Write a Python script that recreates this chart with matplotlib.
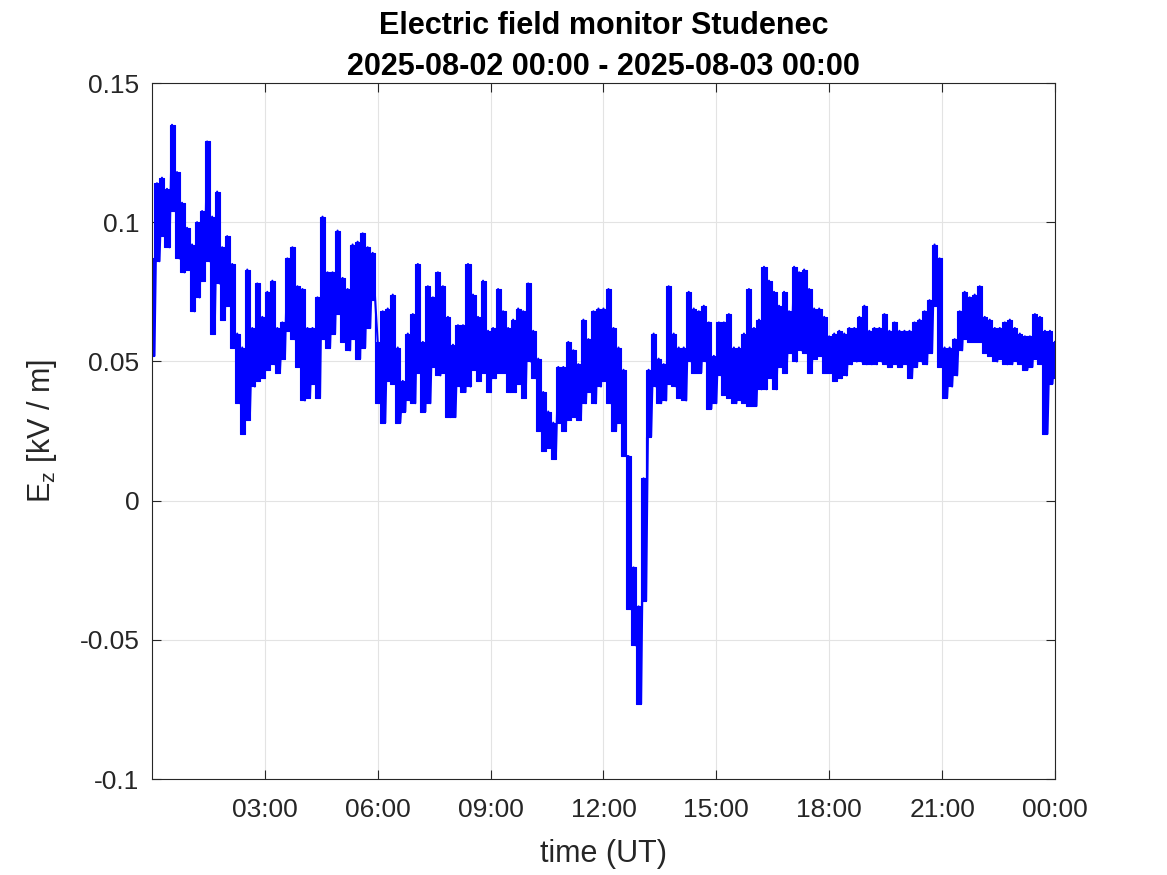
import numpy as np
import matplotlib
matplotlib.use("Agg")
import matplotlib.pyplot as plt

plt.rcParams['font.family'] = ['Liberation Sans', 'DejaVu Sans']

# Ez [kV/m], upper and lower edges of the noisy trace, one pair per ~8 min slot
ez_hi = [0.087, 0.114, 0.116, 0.112, 0.135, 0.118, 0.107, 0.098, 0.092, 0.100,
         0.104, 0.129, 0.102, 0.111, 0.091, 0.095, 0.085, 0.060, 0.055, 0.083,
         0.062, 0.078, 0.066, 0.075, 0.079, 0.062, 0.064, 0.087, 0.091, 0.077,
         0.076, 0.062, 0.062, 0.073, 0.102, 0.082, 0.082, 0.097, 0.080, 0.076,
         0.092, 0.093, 0.096, 0.091, 0.089, 0.057, 0.068, 0.069, 0.074, 0.055,
         0.043, 0.060, 0.067, 0.085, 0.057, 0.077, 0.073, 0.082, 0.077, 0.066,
         0.056, 0.063, 0.063, 0.085, 0.074, 0.066, 0.079, 0.061, 0.062, 0.076,
         0.068, 0.062, 0.065, 0.069, 0.068, 0.078, 0.061, 0.051, 0.039, 0.032,
         0.028, 0.048, 0.048, 0.057, 0.054, 0.049, 0.065, 0.058, 0.068, 0.069,
         0.069, 0.076, 0.062, 0.055, 0.047, 0.016, -0.024, -0.038, 0.008, 0.047,
         0.060, 0.051, 0.049, 0.077, 0.060, 0.055, 0.055, 0.075, 0.069, 0.068,
         0.070, 0.064, 0.052, 0.064, 0.064, 0.067, 0.055, 0.055, 0.060, 0.076,
         0.062, 0.065, 0.084, 0.079, 0.075, 0.070, 0.075, 0.068, 0.084, 0.082,
         0.083, 0.076, 0.069, 0.069, 0.066, 0.059, 0.060, 0.061, 0.060, 0.062,
         0.062, 0.066, 0.070, 0.061, 0.062, 0.062, 0.067, 0.061, 0.064, 0.061,
         0.061, 0.061, 0.064, 0.065, 0.068, 0.072, 0.092, 0.087, 0.055, 0.055,
         0.058, 0.068, 0.075, 0.073, 0.074, 0.077, 0.066, 0.065, 0.062, 0.062,
         0.064, 0.065, 0.062, 0.060, 0.059, 0.059, 0.067, 0.066, 0.061, 0.061,
         0.057]
ez_lo = [0.052, 0.086, 0.095, 0.091, 0.104, 0.087, 0.082, 0.083, 0.068, 0.073,
         0.079, 0.086, 0.060, 0.078, 0.065, 0.070, 0.055, 0.035, 0.024, 0.029,
         0.041, 0.043, 0.044, 0.047, 0.049, 0.046, 0.051, 0.061, 0.058, 0.048,
         0.036, 0.037, 0.042, 0.037, 0.058, 0.055, 0.060, 0.067, 0.057, 0.054,
         0.058, 0.051, 0.055, 0.062, 0.072, 0.035, 0.028, 0.043, 0.042, 0.028,
         0.032, 0.036, 0.035, 0.046, 0.032, 0.035, 0.048, 0.045, 0.046, 0.030,
         0.030, 0.041, 0.039, 0.041, 0.047, 0.043, 0.046, 0.039, 0.044, 0.046,
         0.046, 0.039, 0.039, 0.042, 0.037, 0.050, 0.044, 0.025, 0.018, 0.019,
         0.015, 0.028, 0.025, 0.029, 0.030, 0.029, 0.035, 0.039, 0.035, 0.041,
         0.043, 0.035, 0.025, 0.028, 0.016, -0.039, -0.052, -0.073, -0.036, 0.023,
         0.041, 0.035, 0.036, 0.042, 0.041, 0.037, 0.036, 0.050, 0.046, 0.046,
         0.050, 0.033, 0.035, 0.045, 0.038, 0.037, 0.035, 0.036, 0.035, 0.034,
         0.034, 0.040, 0.040, 0.044, 0.040, 0.048, 0.046, 0.053, 0.050, 0.054,
         0.053, 0.046, 0.051, 0.052, 0.046, 0.046, 0.043, 0.044, 0.045, 0.049,
         0.050, 0.050, 0.049, 0.049, 0.049, 0.050, 0.049, 0.048, 0.049, 0.048,
         0.049, 0.044, 0.048, 0.050, 0.049, 0.053, 0.070, 0.048, 0.037, 0.041,
         0.045, 0.054, 0.058, 0.057, 0.057, 0.057, 0.053, 0.052, 0.050, 0.051,
         0.049, 0.049, 0.050, 0.049, 0.047, 0.048, 0.051, 0.049, 0.024, 0.042,
         0.044]

hour_ticks = [3, 6, 9, 12, 15, 18, 21, 24]
hour_labels = ['03:00', '06:00', '09:00', '12:00', '15:00', '18:00', '21:00', '00:00']
ez_ticks = [-0.1, -0.05, 0, 0.05, 0.1, 0.15]
ez_labels = ['-0.1', '-0.05', '0', '0.05', '0.1', '0.15']

t = np.linspace(0, 24, len(ez_hi))
dt = t[1] - t[0]
x = np.column_stack([t, t + dt / 2]).ravel()
y = np.column_stack([ez_hi, ez_lo]).ravel()
keep = x <= 24
x, y = x[keep], y[keep]

fig = plt.figure(figsize=(11.67, 8.75), dpi=100)
ax = fig.add_axes([0.1302, 0.1097, 0.7738, 0.7954])

blue = '#0000ff'
# noisy trace drawn as a band between its upper and lower edge, plus the trace itself
ax.fill_between(t, ez_lo, ez_hi, step='mid', facecolor=blue, edgecolor=blue, linewidth=0.8)
ax.plot(x, y, color=blue, linewidth=1.5)

ax.set_xlim(0, 24)
ax.set_ylim(-0.1, 0.15)
ax.set_xticks(hour_ticks)
ax.set_xticklabels(hour_labels)
ax.set_yticks(ez_ticks)
ax.set_yticklabels(ez_labels)

ax.grid(True, color='#e3e3e3', linewidth=0.8)
ax.set_axisbelow(True)
ax.tick_params(direction='in', length=6.5, width=0.8, top=True, right=True,
               labelsize=19, colors='#262626')
ax.tick_params(axis='x', pad=14)
ax.tick_params(axis='y', pad=9)
for s in ax.spines.values():
    s.set_color('#262626')
    s.set_linewidth(0.8)

ax.set_xlabel('time (UT)', fontsize=22, color='#262626', labelpad=12)
ax.set_ylabel(r'E$_\mathregular{z}$ [kV / m]', fontsize=22, color='#262626', labelpad=15)
ax.set_title('Electric field monitor Studenec\n2025-08-02 00:00 - 2025-08-03 00:00',
             fontsize=22, fontweight='bold', color='black', pad=6, linespacing=1.45)

fig.savefig('out.png', dpi=100)
